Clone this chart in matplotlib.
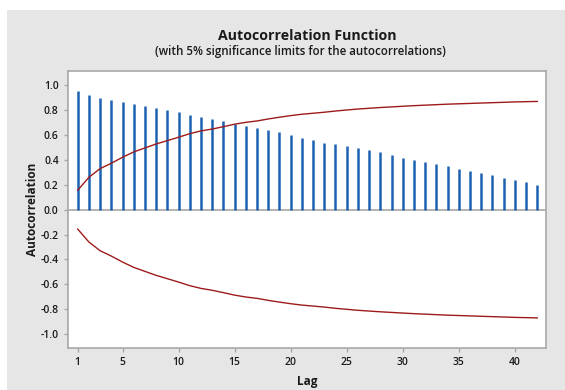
import numpy as np
import matplotlib

matplotlib.use("Agg")
import matplotlib.pyplot as plt
from matplotlib.patches import Rectangle

plt.rcParams["font.family"] = ["Open Sans", "DejaVu Sans"]

lags = list(range(1, 43))
acf = [0.954, 0.925, 0.895, 0.884, 0.868, 0.852, 0.836, 0.818, 0.801, 0.783,
       0.761, 0.743, 0.727, 0.711, 0.689, 0.673, 0.659, 0.641, 0.625, 0.598,
       0.576, 0.558, 0.536, 0.526, 0.510, 0.498, 0.482, 0.461, 0.440, 0.413,
       0.400, 0.386, 0.365, 0.349, 0.327, 0.311, 0.293, 0.277, 0.255, 0.236,
       0.223, 0.201]
upper_limit = [0.156, 0.260, 0.330, 0.373, 0.421, 0.464, 0.496, 0.528, 0.555, 0.582,
               0.611, 0.633, 0.648, 0.667, 0.687, 0.702, 0.713, 0.729, 0.743, 0.756,
               0.767, 0.775, 0.783, 0.793, 0.801, 0.809, 0.815, 0.821, 0.826, 0.831,
               0.836, 0.840, 0.844, 0.848, 0.851, 0.854, 0.857, 0.860, 0.863, 0.866,
               0.868, 0.870]
lower_limit = [-v for v in upper_limit]

xticks = [1, 5, 10, 15, 20, 25, 30, 35, 40]
yticks = [-1.0, -0.8, -0.6, -0.4, -0.2, 0.0, 0.2, 0.4, 0.6, 0.8, 1.0]

fig = plt.figure(figsize=(5.65, 3.9), dpi=100, facecolor="white")
# grey panel behind the chart
fig.patches.append(Rectangle((7 / 565, 0), 1, 1 - 10 / 390, transform=fig.transFigure,
                             facecolor="#e6e6e6", edgecolor="none", zorder=-10))

ax = fig.add_axes([67.7 / 565, 1 - 348 / 390, (546 - 67.7) / 565, (348 - 70.7) / 390])
ax.set_zorder(5)
ax.set_facecolor("white")

ax.axhline(0, color="#a8a8a8", lw=1.2, zorder=1)
ax.vlines(lags, 0, acf, color="#1c62b0", lw=1.8, zorder=2)
ax.plot(lags, upper_limit, color="#9e1b1b", lw=1.0, zorder=3)
ax.plot(lags, lower_limit, color="#9e1b1b", lw=1.0, zorder=3)

ax.set_xlim(0.11, 42.78)
ax.set_ylim(-1.112, 1.117)
ax.set_xticks(xticks)
ax.set_yticks(yticks)
ax.set_yticklabels([f"{v:.1f}" for v in yticks])
for s in ax.spines.values():
    s.set_color("#a8a8a8")
    s.set_linewidth(1.2)
ax.tick_params(colors="#a8a8a8", length=3, width=1, labelcolor="#1a1a1a", labelsize=7.5)
for lab in ax.get_xticklabels() + ax.get_yticklabels():
    lab.set_fontweight("semibold")

ax.set_xlabel("Lag", fontsize=8.5, fontweight="bold", color="#1a1a1a", labelpad=5)
ax.set_ylabel("Autocorrelation", fontsize=8.5, fontweight="bold", color="#1a1a1a", labelpad=1)

fig.text(307 / 565, 1 - 36 / 390, "Autocorrelation Function", ha="center", va="center",
         fontsize=10.2, fontweight="bold", color="#1a1a1a")
fig.text(300 / 565, 1 - 51 / 390, "(with 5% significance limits for the autocorrelations)",
         ha="center", va="center", fontsize=8.3, fontweight="semibold", color="#1a1a1a")

fig.savefig("out.png", dpi=100, facecolor="white")
